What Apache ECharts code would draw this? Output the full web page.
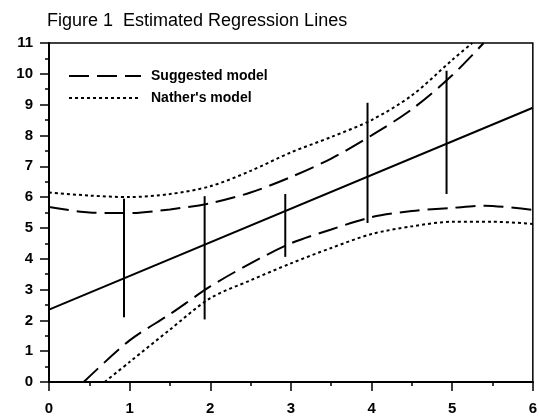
<!DOCTYPE html>
<html>
<head>
<meta charset="utf-8">
<script src="https://cdn.jsdelivr.net/npm/echarts@6/dist/echarts.min.js"></script>
<style>
  html, body { margin: 0; padding: 0; background: #fff; }
  #main { width: 540px; height: 416px; }
</style>
</head>
<body>
<div id="main"></div>
<script>
var xTicks = [0, 1, 2, 3, 4, 5, 6];
var yTicks = [0, 1, 2, 3, 4, 5, 6, 7, 8, 9, 10, 11];

// fitted regression line
var solidX = [0, 6];
var solidY = [2.35, 8.9];

// suggested model bands (dashed)
var upperDashX = [0, 0.5, 1, 1.5, 2, 2.5, 3, 3.5, 4, 4.5, 5, 5.39];
var upperDashY = [5.68, 5.5, 5.48, 5.6, 5.8, 6.15, 6.65, 7.25, 8.0, 8.85, 9.95, 11];
var lowerDashX = [0.43, 1, 1.5, 2, 2.5, 3, 3.5, 4, 4.5, 5, 5.4, 6];
var lowerDashY = [0, 1.35, 2.2, 3.1, 3.85, 4.5, 4.95, 5.35, 5.55, 5.65, 5.72, 5.58];

// Nather's model bands (dotted)
var upperDotX = [0, 0.5, 1, 1.5, 2, 2.5, 3, 3.5, 4, 4.5, 5, 5.25];
var upperDotY = [6.15, 6.05, 6.0, 6.1, 6.35, 6.85, 7.45, 7.95, 8.5, 9.3, 10.45, 11];
var lowerDotX = [0.69, 1, 1.5, 2, 2.5, 3, 3.5, 4, 4.5, 5, 5.5, 6];
var lowerDotY = [0, 0.65, 1.7, 2.72, 3.3, 3.85, 4.35, 4.8, 5.05, 5.2, 5.2, 5.13];

// vertical intervals
var barX = [0.93, 1.93, 2.93, 3.95, 4.93];
var barLow = [2.1, 2.03, 4.06, 5.16, 6.1];
var barHigh = [5.95, 6.03, 6.1, 9.06, 10.1];

function pairs(xs, ys) {
    return xs.map(function (x, i) { return [x, ys[i]]; });
}

var font = 'Liberation Sans, Arial, sans-serif';
var dashType = [20, 8];
var dotType = [3, 3];

var myChart = echarts.init(document.getElementById('main'));

var option = {
    backgroundColor: '#fff',
    animation: false,
    title: {
        text: 'Figure 1  Estimated Regression Lines',
        left: 42,
        top: 7,
        textStyle: { fontFamily: font, fontSize: 18, fontWeight: 'normal', color: '#000' }
    },
    legend: {
        orient: 'vertical',
        left: 63,
        top: 64,
        itemWidth: 72,
        itemHeight: 16,
        itemGap: 8,
        itemStyle: { opacity: 0 },
        data: ['Suggested model', "Nather's model"],
        textStyle: { fontFamily: font, fontSize: 14, fontWeight: 'bold', color: '#000', padding: [0, 0, 0, 5] }
    },
    grid: {
        left: 49, right: 3, top: 43, bottom: 32,
        show: true,
        borderColor: '#000',
        borderWidth: 1.5
    },
    xAxis: {
        type: 'value',
        min: xTicks[0],
        max: xTicks[xTicks.length - 1],
        interval: 1,
        axisLine: { lineStyle: { color: '#000', width: 2 } },
        axisTick: { length: 9, lineStyle: { color: '#000', width: 1.5 } },
        minorTick: { show: true, splitNumber: 2, length: 4, lineStyle: { color: '#000', width: 1.5 } },
        splitLine: { show: false },
        axisLabel: { margin: 19, fontFamily: font, fontSize: 15, fontWeight: 'bold', color: '#000' }
    },
    yAxis: {
        type: 'value',
        min: yTicks[0],
        max: yTicks[yTicks.length - 1],
        interval: 1,
        axisLine: { lineStyle: { color: '#000', width: 2 } },
        axisTick: { length: 9, lineStyle: { color: '#000', width: 1.5 } },
        minorTick: { show: true, splitNumber: 2, length: 4, lineStyle: { color: '#000', width: 1.5 } },
        splitLine: { show: false },
        axisLabel: { margin: 16, fontFamily: font, fontSize: 15, fontWeight: 'bold', color: '#000' }
    },
    series: [{
        name: 'fit',
        type: 'line',
        symbol: 'none',
        lineStyle: { color: '#000', width: 2 },
        data: pairs(solidX, solidY)
    }, {
        name: 'Suggested model',
        type: 'line',
        symbol: 'none',
        smooth: 0.3,
        itemStyle: { color: '#000' },
        lineStyle: { color: '#000', width: 2, type: dashType },
        data: pairs(upperDashX, upperDashY)
    }, {
        name: 'Suggested model',
        type: 'line',
        symbol: 'none',
        smooth: 0.3,
        itemStyle: { color: '#000' },
        lineStyle: { color: '#000', width: 2, type: dashType },
        data: pairs(lowerDashX, lowerDashY)
    }, {
        name: "Nather's model",
        type: 'line',
        symbol: 'none',
        smooth: 0.3,
        itemStyle: { color: '#000' },
        lineStyle: { color: '#000', width: 2, type: dotType },
        data: pairs(upperDotX, upperDotY)
    }, {
        name: "Nather's model",
        type: 'line',
        symbol: 'none',
        smooth: 0.3,
        itemStyle: { color: '#000' },
        lineStyle: { color: '#000', width: 2, type: dotType },
        data: pairs(lowerDotX, lowerDotY)
    }, {
        name: 'intervals',
        type: 'custom',
        renderItem: function (params, api) {
            var p1 = api.coord([api.value(0), api.value(1)]);
            var p2 = api.coord([api.value(0), api.value(2)]);
            return {
                type: 'line',
                shape: { x1: p1[0], y1: p1[1], x2: p2[0], y2: p2[1] },
                style: { stroke: '#000', lineWidth: 2 }
            };
        },
        data: barX.map(function (x, i) { return [x, barLow[i], barHigh[i]]; })
    }]
};
myChart.setOption(option);
</script>
</body>
</html>
